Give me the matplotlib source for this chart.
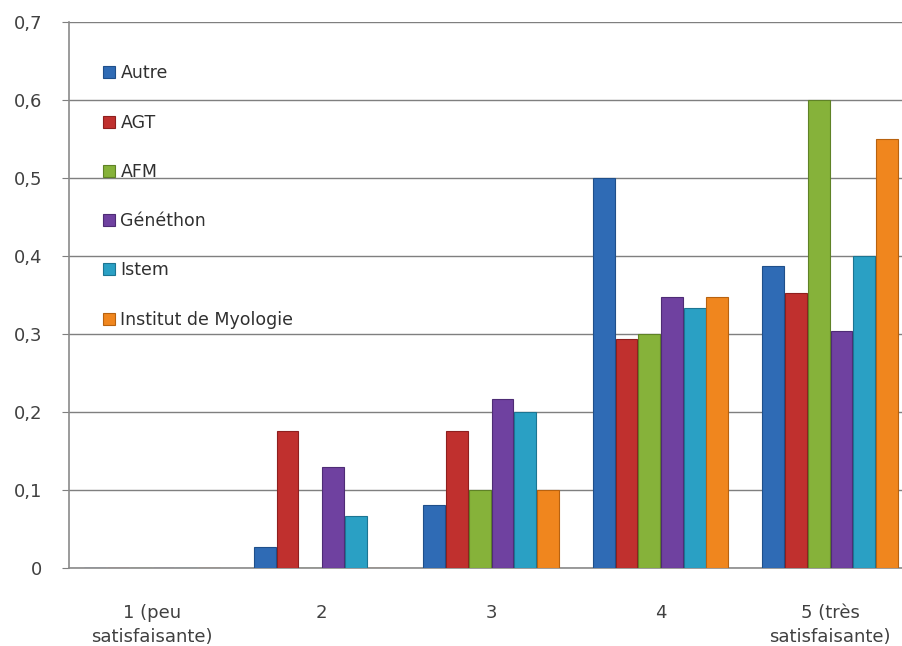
import matplotlib
matplotlib.use("Agg")
import matplotlib.pyplot as plt
import numpy as np

categories = ["1 (peu\nsatisfaisante)", "2", "3", "4", "5 (très\nsatisfaisante)"]
series_names = ["Autre", "AGT", "AFM", "Généthon", "Istem", "Institut de Myologie"]
autre = [0.0, 0.027, 0.081, 0.5, 0.387]
agt = [0.0, 0.176, 0.176, 0.294, 0.353]
afm = [0.0, 0.0, 0.1, 0.3, 0.6]
genethon = [0.0, 0.13, 0.217, 0.348, 0.304]
istem = [0.0, 0.067, 0.2, 0.333, 0.4]
myologie = [0.0, 0.0, 0.1, 0.348, 0.55]
yticks = [0, 0.1, 0.2, 0.3, 0.4, 0.5, 0.6, 0.7]
ytick_labels = ["0", "0,1", "0,2", "0,3", "0,4", "0,5", "0,6", "0,7"]

series = [autre, agt, afm, genethon, istem, myologie]
colors = ["#2f6bb5", "#c0302e", "#86b23a", "#6f41a0", "#2aa0c4", "#f0861e"]
edges = ["#1f4f8a", "#8e1f1e", "#5f8226", "#4e2c75", "#1c7592", "#b8620f"]

plt.rcParams['font.family'] = ['DejaVu Sans']

fig = plt.figure(figsize=(9.03, 6.46), dpi=100)
ax = fig.add_axes([69/903, 1-568/646, 1-69/903, (568-22)/646])

x = np.arange(len(categories))
bw = 0.134
n = len(series)
for i, (vals, name) in enumerate(zip(series, series_names)):
    offs = (i - (n-1)/2) * bw
    ax.bar(x + offs, vals, width=bw*0.96, color=colors[i], edgecolor=edges[i],
           linewidth=0.8, label=name, zorder=3)

ax.set_xlim(-0.49, 4.43)
ax.set_ylim(0, 0.7)
ax.set_yticks(yticks)
ax.set_yticklabels(ytick_labels, fontsize=13, color="#404040")
ax.set_xticks(x)
ax.set_xticklabels(categories, fontsize=13, color="#404040", linespacing=1.45)
ax.grid(axis="y", color="#7f7f7f", linewidth=1.0, zorder=0)
ax.tick_params(axis="x", length=0, pad=26)
ax.tick_params(axis="y", length=5, color="#7f7f7f", pad=14)
for s in ["top", "right"]:
    ax.spines[s].set_visible(False)
for s in ["left", "bottom"]:
    ax.spines[s].set_color("#8a8a8a")
    ax.spines[s].set_linewidth(1.2)

leg = ax.legend(loc="upper left", bbox_to_anchor=(0.033, 0.935), frameon=False,
                fontsize=12.5, handlelength=0.68, handleheight=0.68, handletextpad=0.3,
                labelspacing=1.8, borderaxespad=0)
for t in leg.get_texts():
    t.set_color("#303030")

fig.savefig("out.png", dpi=100)
